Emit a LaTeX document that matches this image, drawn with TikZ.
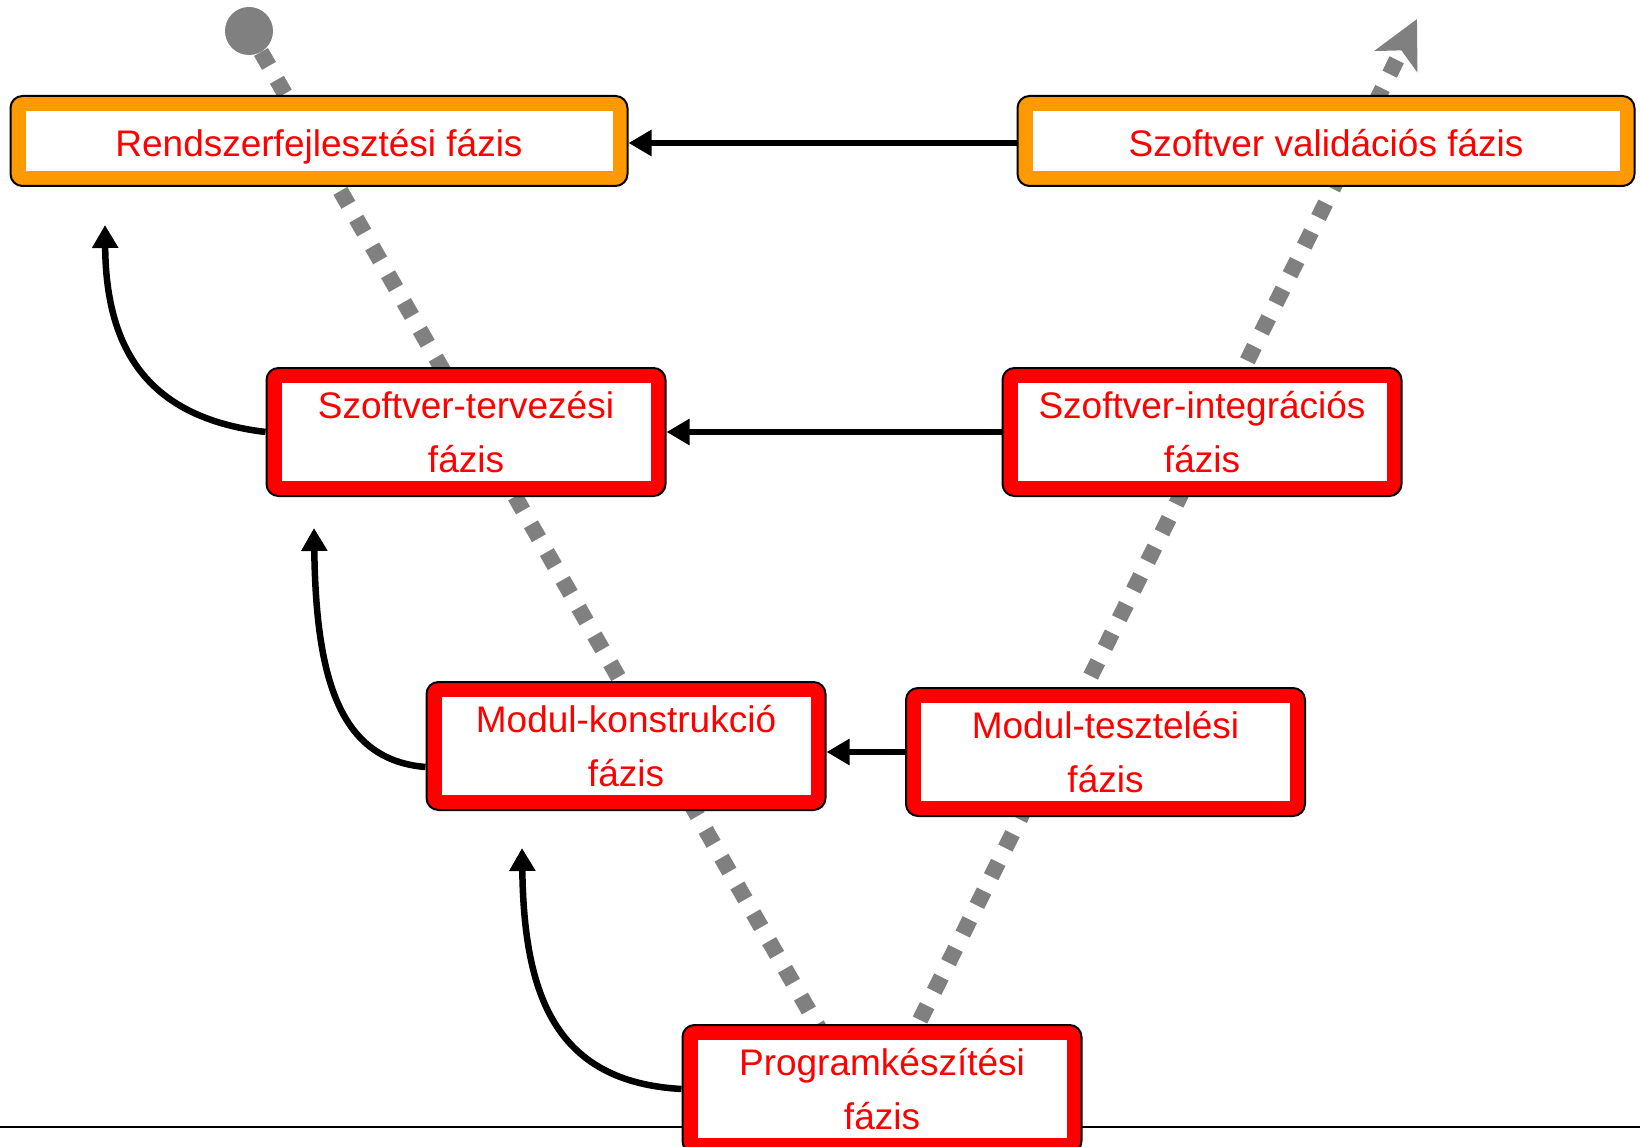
\documentclass[tikz,border=0pt]{standalone}
\usepackage{fontspec}
\setmainfont{Liberation Sans}
\usetikzlibrary{arrows.meta}

\definecolor{phaseorange}{RGB}{255,153,0}
\definecolor{phasered}{RGB}{255,0,0}
\definecolor{flowgray}{RGB}{128,128,128}

% single-line labels sit a little below the middle of their frame
\newcommand{\lowered}[1]{\raisebox{-6pt}[\height][\depth]{\vphantom{j}#1}}

\tikzset{
  % rounded coloured frame with a square-cornered white panel inside
  phase/.style={draw=black, line width=2pt, rounded corners=12pt, fill=#1,
    inner sep=0pt, text=phasered, align=center,
    font=\fontsize{37}{53.5}\selectfont,
    path picture={\fill[white, sharp corners]
      ([shift={(15pt,-15pt)}]path picture bounding box.north west) rectangle
      ([shift={(-15pt,15pt)}]path picture bounding box.south east);}},
  wide/.style={minimum width=617pt, minimum height=90pt},
  narrow/.style={minimum width=399pt, minimum height=128pt},
  link/.style={line width=6.5pt, -{Triangle[length=23pt,width=25pt]}},
  flow/.style={draw=flowgray, line width=16pt, dash pattern=on 16pt off 16pt},
}

\begin{document}
\begin{tikzpicture}[x=1pt,y=-1pt]
\useasboundingbox (0,0) rectangle (1640,1147);
\clip (0,0) rectangle (1640,1147);

% base line
\coordinate (baseL) at (0,1126.5);
\coordinate (baseR) at (1640,1126.5);
\draw[line width=2pt] (baseL) -- (baseR);

% the two diagonal flows of the V
\node[circle, fill=flowgray, minimum size=48pt, inner sep=0pt] (origin) at (249,31) {};
\coordinate (bottomL) at (820,1030);
\coordinate (bottomR) at (920,1020);
\coordinate (goal) at (1417,19);
\draw[flow] (origin) -- (bottomL);
\draw[flow, -{Stealth[length=47pt,width=47pt,inset=12pt]}] (bottomR) -- (goal);

% phases
\node[phase=phaseorange, wide] (sys) at (319,141) {\lowered{Rendszerfejlesztési fázis}};
\node[phase=phaseorange, wide] (val) at (1326,141) {\lowered{Szoftver validációs fázis}};
\node[phase=phasered, narrow] (des) at (466,432) {Szoftver-tervezési\\fázis};
\node[phase=phasered, narrow] (int) at (1202,432) {Szoftver-integrációs\\fázis};
\node[phase=phasered, narrow] (con) at (626,746) {Modul-konstrukció\\fázis};
\node[phase=phasered, narrow] (tst) at (1105.5,752) {Modul-tesztelési\\fázis};
\node[phase=phasered, narrow] (prg) at (882,1089) {Programkészítési\\fázis};

% verification links
\draw[link] ([yshift=-2pt]val.west) -- ([yshift=-2pt]sys.east);
\draw[link] (int) -- (des);
\draw[link] (tst.west) -- (tst.west -| con.east);

% feedback arcs
\coordinate (up1) at (105,225);
\coordinate (up2) at (314,528);
\coordinate (up3) at (522,848);
\draw[link] (des.west) .. controls (150,418) and (106,352) .. (up1);
\draw[link] ([yshift=-21pt]con.west) .. controls (340,760) and (316,680) .. (up2);
\draw[link] (prg.west) .. controls (555,1082) and (524,995) .. (up3);
\end{tikzpicture}
\end{document}
